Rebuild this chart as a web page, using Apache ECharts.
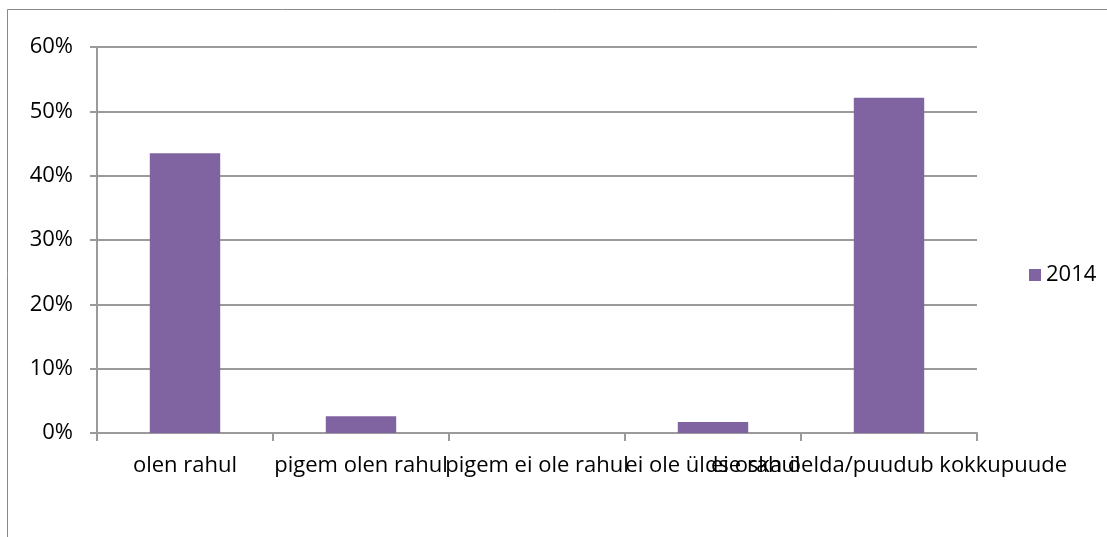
<!DOCTYPE html>
<html>
<head>
<meta charset="utf-8">
<script src="https://cdn.jsdelivr.net/npm/echarts@6/dist/echarts.min.js"></script>
<style>
  html, body { margin: 0; padding: 0; background: #fff; }
  #chart { width: 1107px; height: 537px; }
</style>
</head>
<body>
<div id="chart"></div>
<script>
const categories = ["olen rahul", "pigem olen rahul", "pigem ei ole rahul", "ei ole üldse rahul", "ei oska öelda/puudub kokkupuude"];
const values2014 = [0.435, 0.026, 0, 0.017, 0.521];
const seriesName = "2014";

const chart = echarts.init(document.getElementById("chart"));
const font = "Open Sans";
chart.setOption({
  animation: false,
  color: ["#8064A2"],
  graphic: [
    {
      type: "rect",
      shape: { x: 7.5, y: 9.5, width: 1200, height: 600 },
      style: { fill: "none", stroke: "#898989", lineWidth: 1 },
    },
  ],
  legend: {
    left: 1024,
    top: 259,
    itemWidth: 12,
    itemHeight: 12,
    icon: "rect",
    itemGap: 4,
    textStyle: { fontFamily: font, fontSize: 22, color: "#000" },
    data: [seriesName],
  },
  grid: { left: 97, right: 130, top: 47, bottom: 104, containLabel: false },
  xAxis: {
    type: "category",
    data: categories,
    axisLine: { lineStyle: { color: "#9a9a9a", width: 2 } },
    axisTick: { show: true, length: 8, alignWithLabel: false, lineStyle: { color: "#9a9a9a", width: 2 } },
    axisLabel: {
      interval: 0,
      hideOverlap: false,
      margin: 22,
      fontFamily: font,
      fontSize: 22,
      color: "#000",
    },
  },
  yAxis: {
    type: "value",
    min: 0,
    max: 0.6,
    interval: 0.1,
    axisLine: { show: true, lineStyle: { color: "#9a9a9a", width: 2 } },
    axisTick: { show: true, length: 7, lineStyle: { color: "#9a9a9a", width: 2 } },
    splitLine: { lineStyle: { color: "#9a9a9a", width: 2 } },
    axisLabel: {
      margin: 24,
      fontFamily: font,
      fontSize: 22,
      color: "#000",
      formatter: (v) => Math.round(v * 100) + "%",
    },
  },
  series: [
    {
      name: seriesName,
      type: "bar",
      data: values2014,
      barCategoryGap: "60%",
    },
  ],
});
</script>
</body>
</html>
